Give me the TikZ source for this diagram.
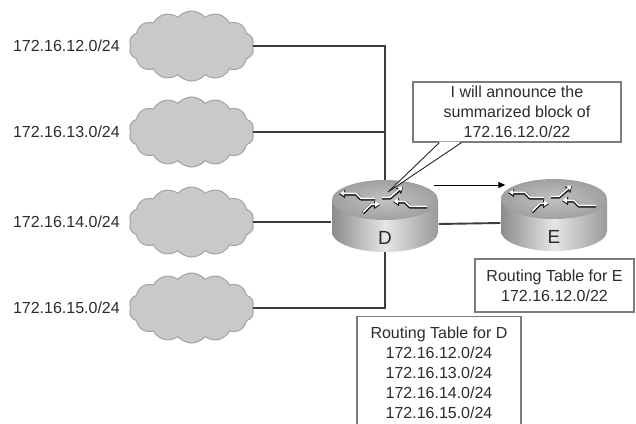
\documentclass[tikz,border=0pt]{standalone}
\usepackage{fontspec}
\setmainfont{Liberation Sans}
\usetikzlibrary{shapes.symbols,arrows.meta,calc}
\definecolor{cloudfill}{HTML}{C9C9C9}
\definecolor{cloudline}{HTML}{A2A2A2}
\definecolor{wire}{HTML}{3C3C3C}
\definecolor{boxline}{HTML}{7C7C7C}
\definecolor{txt}{HTML}{2C2C2C}
\definecolor{rbodyL}{HTML}{8C8C8C}
\definecolor{rbodyM}{HTML}{E6E6E6}
\definecolor{rbodyR}{HTML}{9A9A9A}
\definecolor{rtopin}{HTML}{C2C2C2}
\definecolor{rtopout}{HTML}{A0A0A0}
\tikzset{
  ashadow/.style={draw=black!90, line width=3.2pt, line join=round, -{Triangle[length=6pt,width=8pt]}},
  alight/.style={draw=white, line width=1.6pt, line join=round, -{Triangle[length=4.2pt,width=5.4pt]}},
  router/.pic={
    \shade[left color=rbodyL, right color=rbodyR, middle color=rbodyM]
      (-53,-16) -- (-53,16) arc[start angle=180, end angle=360, x radius=53pt, y radius=20pt] -- (53,-16) -- cycle;
    \shade[inner color=rtopin, outer color=rtopout] (0,-16) ellipse [x radius=53pt, y radius=20pt];
    \begin{scope}[shift={(0,-16)}]
      \draw[ashadow] (-10,-1) -- (-24,-1) -- (-29,-6) -- (-46,-6);
      \draw[alight]  (-10,-1.8) -- (-24,-1.8) -- (-29,-6.8) -- (-45,-6.8);
      \draw[ashadow] (-3,-2) -- (5,-2) -- (18,-13);
      \draw[alight]  (-3,-2.8) -- (5,-2.8) -- (17.4,-13.5);
      \draw[ashadow] (-22,13) -- (-14,5) -- (-5,5);
      \draw[alight]  (-22,12.2) -- (-14,4.2) -- (-5.6,4.2);
      \draw[ashadow] (42,7) -- (25,7) -- (20,2) -- (8,2);
      \draw[alight]  (42,6.2) -- (25,6.2) -- (20,1.2) -- (8.6,1.2);
    \end{scope}
  }
}
\begin{document}
\begin{tikzpicture}[x=1pt,y=-1pt,
  net/.style={cloud, cloud puffs=14, cloud puff arc=100, aspect=1.75, draw=cloudline, fill=cloudfill,
    line width=1pt, minimum width=125pt, minimum height=70pt, inner sep=0pt},
  netlabel/.style={anchor=east, text=txt, font=\fontsize{16}{20}\selectfont, inner sep=0pt},
  wireline/.style={draw=wire, line width=1.9pt},
  tablebox/.style={draw=boxline, line width=1.4pt, fill=white, align=center,
    font=\fontsize{16}{20}\selectfont, text=txt, inner xsep=0pt},
  routerbox/.style={minimum width=107pt, minimum height=72pt, inner sep=0pt},
  rname/.style={text=txt, font=\fontsize{19}{19}\selectfont, inner sep=0pt},
  tail/.style={draw=black!85, line width=0.9pt},
  announce/.style={draw=black, line width=1pt, -{Triangle[length=7pt,width=6pt]}}
  ]
\clip (0,0) rectangle (636,423);
\fill[white] (0,0) rectangle (636,423);

% networks
\node[net] (c1) at (191.5,46) {};
\node[net] (c2) at (191.5,132) {};
\node[net] (c3) at (191.5,222) {};
\node[net] (c4) at (191.5,308) {};
\node[netlabel] (l1) at ([xshift=-10pt]c1.west) {172.16.12.0/24};
\node[netlabel] (l2) at ([xshift=-10pt]c2.west) {172.16.13.0/24};
\node[netlabel] (l3) at ([xshift=-10pt]c3.west) {172.16.14.0/24};
\node[netlabel] (l4) at ([xshift=-10pt]c4.west) {172.16.15.0/24};

% routers (placeholders)
\node[routerbox] (D) at (385,216) {};
\node[routerbox] (E) at (554,215) {};

% wires
\draw[wireline] (c1.east) -| (D.north);
\draw[wireline] (c2.east) -- (c2.east -| D.north);
\draw[wireline] (c3.east) -- (c3.east -| D.west);
\draw[wireline] (c4.east) -| (D.south);
\draw[wireline] ([yshift=-8pt]D.east) -- ([yshift=-8pt]E.west);

% router drawings
\pic at (D) {router};
\pic at (E) {router};
\node[rname] (Dname) at (385,238) {D};
\node[rname] (Ename) at (554,237) {E};

% announcement arrow
\draw[announce] ([xshift=-5pt,yshift=31pt]D.east) -- ([xshift=5pt,yshift=30pt]E.west);

% callout
\node[tablebox, minimum width=208pt, minimum height=60pt, inner ysep=0pt] (call) at (517,112)
  {I will announce the\\summarized block of\\172.16.12.0/22};
\coordinate (tip) at (388,192);
\fill[white] ($(call.south west)+(27.6,-1.2)$) -- (tip) -- ($(call.south west)+(48.4,-1.2)$) -- cycle;
\draw[tail] ($(call.south west)+(27,0)$) -- (tip) -- ($(call.south west)+(49,0)$);

% routing tables
\node[tablebox, minimum width=159pt, minimum height=53pt, inner ysep=0pt] (Etab) at (554.5,285.5)
  {Routing Table for E\\172.16.12.0/22};
\node[tablebox, minimum width=164pt, inner ysep=10pt, anchor=north] (Dtab) at (439,316)
  {Routing Table for D\\172.16.12.0/24\\172.16.13.0/24\\172.16.14.0/24\\172.16.15.0/24};
\end{tikzpicture}
\end{document}
